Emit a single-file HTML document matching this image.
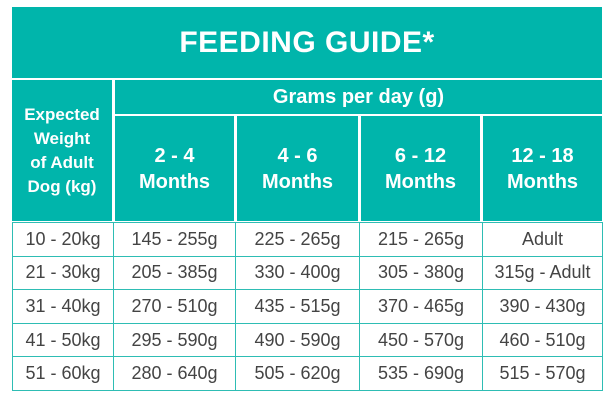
<!DOCTYPE html>
<html><head><style>
body{margin:0;width:616px;height:400px;background:#fff;font-family:"Liberation Sans",sans-serif;position:relative;overflow:hidden}
.t{position:absolute;background:#00b5ab;color:#fff;font-weight:bold;display:flex;align-items:center;justify-content:center;text-align:center;box-sizing:border-box}
.c{position:absolute;color:#444;font-size:18px;display:flex;align-items:center;justify-content:center;box-sizing:border-box;border:1.5px solid #2ebdb4;background:#fff}
</style></head><body>
<div class="t" style="left:12px;top:7px;width:590px;height:71px;font-size:30px;letter-spacing:0.5px">FEEDING GUIDE*</div>
<div class="t" style="left:12px;top:80px;width:100px;height:141px;font-size:17px;line-height:24px">Expected<br>Weight<br>of Adult<br>Dog (kg)</div>
<div class="t" style="left:115px;top:80px;width:487px;height:34px;font-size:20px">Grams per day (g)</div>
<div class="t" style="left:115px;top:116px;width:119px;height:105px;font-size:20px;line-height:26px">2 - 4<br>Months</div>
<div class="t" style="left:237px;top:116px;width:121px;height:105px;font-size:20px;line-height:26px">4 - 6<br>Months</div>
<div class="t" style="left:361px;top:116px;width:119px;height:105px;font-size:20px;line-height:26px">6 - 12<br>Months</div>
<div class="t" style="left:483px;top:116px;width:119px;height:105px;font-size:20px;line-height:26px">12 - 18<br>Months</div>
<div id="rows"></div>
<script>
var d=[["10 - 20kg","145 - 255g","225 - 265g","215 - 265g","Adult"],
["21 - 30kg","205 - 385g","330 - 400g","305 - 380g","315g - Adult"],
["31 - 40kg","270 - 510g","435 - 515g","370 - 465g","390 - 430g"],
["41 - 50kg","295 - 590g","490 - 590g","450 - 570g","460 - 510g"],
["51 - 60kg","280 - 640g","505 - 620g","535 - 690g","515 - 570g"]];
var xs=[12,113,235,359,482,602],h="";
for(var r=0;r<5;r++)for(var c=0;c<5;c++){var y=222+r*33.6;
h+='<div class="c" style="left:'+xs[c]+'px;top:'+y+'px;width:'+(xs[c+1]-xs[c]+1)+'px;height:34.6px">'+d[r][c]+'</div>';}
document.getElementById('rows').innerHTML=h;
</script>
</body></html>
